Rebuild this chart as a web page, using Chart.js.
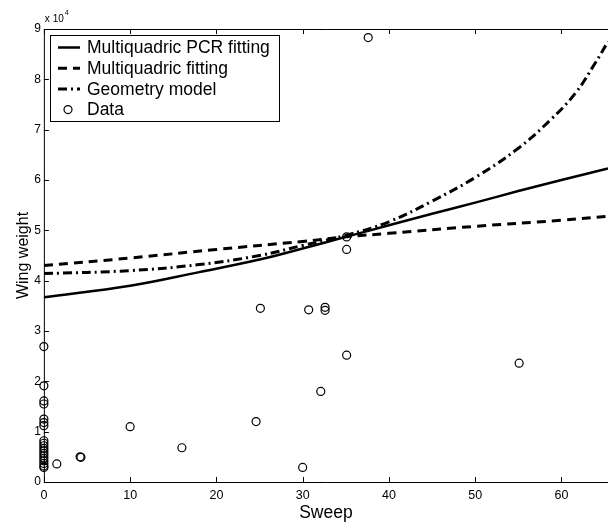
<!DOCTYPE html>
<html>
<head>
<meta charset="utf-8">
<script src="https://cdn.jsdelivr.net/npm/chart.js@4.4.1/dist/chart.umd.min.js"></script>
<style>
  html, body { margin: 0; padding: 0; background: #fff; }
  #wrap { width: 608px; height: 523px; }
</style>
</head>
<body>
<div id="wrap"><canvas id="myChart" width="608" height="523"></canvas></div>
<script>
// x values (sweep) and wing weights
const pcrX = [0, 10, 18, 25, 30, 35, 40, 45, 50, 55, 60, 65.4];
const pcrY = [36700, 39000, 41700, 44200, 46400, 48700, 51000, 53300, 55500, 57800, 60000, 62300];

const mqX = [0, 10, 20, 30, 35, 40, 50, 60, 65.4];
const mqY = [43000, 44500, 46200, 47800, 48700, 49400, 50800, 52000, 52800];

const geoX = [0, 10, 18, 25, 30, 35, 40, 45, 50, 55, 58.7, 61.6, 63.9, 65.4];
const geoY = [41400, 42000, 43200, 45000, 47000, 49000, 51700, 55800, 60500, 66300, 71900, 77200, 83200, 87500];

const dataX = [0, 0, 0, 0, 0, 0, 0, 0, 0, 0, 0, 0, 0, 0, 0, 0, 0, 0, 0,
  1.5, 4.2, 4.3, 10, 16, 24.6, 25.1, 30, 30.7, 32.1, 32.6, 32.6, 35.1, 35.1, 35.1, 37.6, 55.1];
const dataY = [26900, 19100, 16100, 15500, 12500, 11800, 11200, 8200, 7700, 7200, 6700, 6200, 5700, 5200, 4700, 4200, 3700, 3200, 2900,
  3600, 5000, 4900, 11000, 6800, 12000, 34500, 2900, 34200, 18000, 34700, 34100, 25200, 46200, 48700, 88300, 23600];

const xTicks = [0, 10, 20, 30, 40, 50, 60];
const yTicks = [0, 10000, 20000, 30000, 40000, 50000, 60000, 70000, 80000, 90000];

const toXY = (xs, ys) => xs.map((x, i) => ({ x: x, y: ys[i] }));
const FONT = '"Liberation Sans", Arial, sans-serif';

// MATLAB style frame: inward ticks, box, x10^4 label and the legend
const framePlugin = {
  id: 'frame',
  afterDatasetsDraw(chart) {
    const c = chart.ctx;
    const a = chart.chartArea;
    const xs = chart.scales.x, ys = chart.scales.y;
    c.save();
    c.strokeStyle = '#000';
    c.lineWidth = 1;
    c.beginPath();
    c.moveTo(a.left + 0.5, a.top + 0.5);
    c.lineTo(a.right, a.top + 0.5);
    c.moveTo(a.left + 0.5, a.top);
    c.lineTo(a.left + 0.5, a.bottom + 0.5);
    c.lineTo(a.right, a.bottom + 0.5);
    xTicks.forEach(v => {
      const px = Math.round(xs.getPixelForValue(v)) + 0.5;
      c.moveTo(px, a.bottom); c.lineTo(px, a.bottom - 5);
      c.moveTo(px, a.top); c.lineTo(px, a.top + 5);
    });
    yTicks.forEach(v => {
      const py = Math.round(ys.getPixelForValue(v)) + 0.5;
      c.moveTo(a.left, py); c.lineTo(a.left + 5, py);
    });
    c.stroke();

    // exponent label
    c.fillStyle = '#000';
    c.font = '10px ' + FONT;
    c.textBaseline = 'alphabetic';
    c.fillText('x 10', a.left + 1, a.top - 7);
    c.font = '7px ' + FONT;
    c.fillText('4', a.left + 21, a.top - 14);

    // legend
    const lx = 50, ly = 35, lw = 229, lh = 86;
    c.fillStyle = '#fff';
    c.fillRect(lx, ly, lw, lh);
    c.strokeRect(lx + 0.5, ly + 0.5, lw, lh);
    c.font = '17.5px ' + FONT;
    c.textBaseline = 'middle';
    chart.data.datasets.forEach((ds, i) => {
      const yy = ly + 12.5 + i * 20.7;
      c.fillStyle = '#000';
      c.fillText(ds.label, lx + 37, yy + 1);
      if (ds.showLine) {
        c.lineWidth = ds.borderWidth;
        c.setLineDash(ds.borderDash || []);
        c.beginPath();
        c.moveTo(lx + 8, yy);
        c.lineTo(lx + 30, yy);
        c.stroke();
        c.setLineDash([]);
      } else {
        c.lineWidth = 1.2;
        c.beginPath();
        c.arc(lx + 18, yy, 4, 0, Math.PI * 2);
        c.stroke();
      }
    });
    c.restore();
  }
};

const ctx = document.getElementById('myChart').getContext('2d');
const myChart = new Chart(ctx, {
  type: 'scatter',
  data: {
    datasets: [
      {
        label: 'Multiquadric PCR fitting',
        data: toXY(pcrX, pcrY),
        showLine: true,
        borderColor: '#000',
        borderWidth: 2.5,
        pointRadius: 0,
        tension: 0.4
      },
      {
        label: 'Multiquadric fitting',
        data: toXY(mqX, mqY),
        showLine: true,
        borderColor: '#000',
        borderWidth: 3,
        borderDash: [9, 6],
        pointRadius: 0,
        tension: 0.4
      },
      {
        label: 'Geometry model',
        data: toXY(geoX, geoY),
        showLine: true,
        borderColor: '#000',
        borderWidth: 3,
        borderDash: [9, 4, 2, 4],
        pointRadius: 0,
        tension: 0.4
      },
      {
        label: 'Data',
        data: toXY(dataX, dataY),
        showLine: false,
        clip: false,
        borderColor: '#000',
        backgroundColor: 'rgba(0,0,0,0)',
        borderWidth: 1.2,
        pointRadius: 4,
        pointHoverRadius: 4
      }
    ]
  },
  options: {
    responsive: false,
    animation: false,
    events: [],
    layout: { autoPadding: false, padding: { left: 14, right: 0, top: 29, bottom: 0 } },
    plugins: { legend: { display: false }, tooltip: { enabled: false } },
    scales: {
      x: {
        type: 'linear',
        min: 0,
        max: 65.4,
        afterBuildTicks: (scale) => { scale.ticks = xTicks.map(v => ({ value: v })); },
        grid: { display: false, drawTicks: false },
        border: { display: false },
        ticks: { color: '#000', font: { family: FONT, size: 12.5 }, padding: 6, maxRotation: 0 },
        title: { display: true, text: 'Sweep', color: '#000', font: { family: FONT, size: 17.5 }, padding: { top: -6, bottom: -1 } }
      },
      y: {
        type: 'linear',
        min: 0,
        max: 90000,
        afterBuildTicks: (scale) => { scale.ticks = yTicks.map(v => ({ value: v })); },
        grid: { display: false, drawTicks: false },
        border: { display: false },
        ticks: {
          color: '#000',
          font: { family: FONT, size: 12 },
          padding: 3,
          callback: (v) => v / 10000
        },
        title: { display: true, text: 'Wing weight', color: '#000', font: { family: FONT, size: 16 }, padding: { top: 0, bottom: -2 } }
      }
    }
  },
  plugins: [framePlugin]
});
</script>
</body>
</html>
